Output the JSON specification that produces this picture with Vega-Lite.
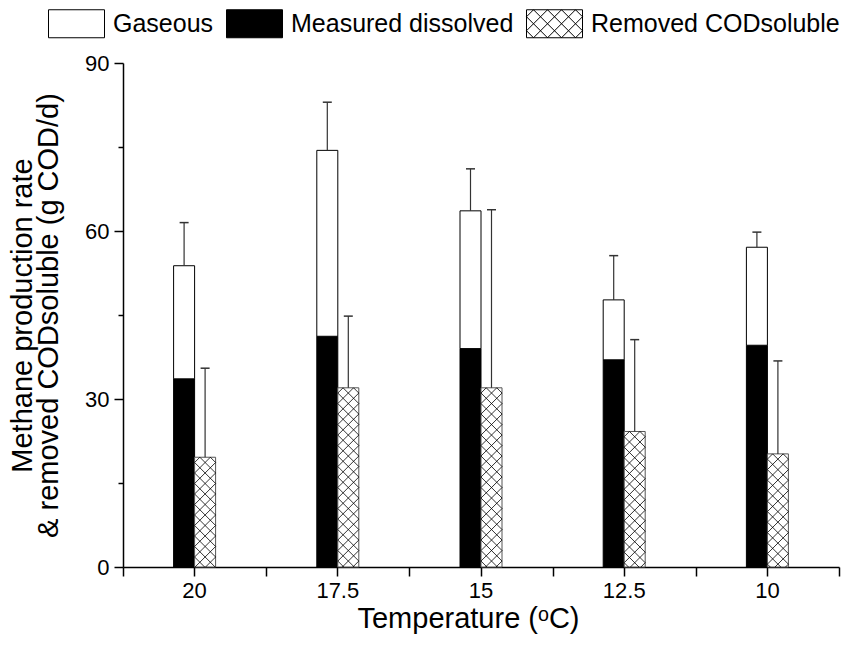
{
  "$schema": "https://vega.github.io/schema/vega-lite/v6.json",
  "width": 716,
  "height": 504,
  "autosize": {"type": "none"},
  "padding": {"left": 123, "top": 63, "right": 15, "bottom": 85},
  "config": {
    "view": {"stroke": null},
    "font": "Liberation Sans",
    "axis": {
      "domainColor": "black",
      "domainWidth": 1.5,
      "tickColor": "black",
      "tickWidth": 1.5,
      "tickSize": 9,
      "labelColor": "black",
      "labelFont": "Liberation Sans",
      "labelFontSize": 22,
      "titleFont": "Liberation Sans",
      "titleFontSize": 29,
      "titleFontWeight": "normal",
      "titleColor": "black",
      "grid": false
    }
  },
  "data": {
    "values": [
      {"temp": "20", "dissolved": 33.6, "total": 53.8, "total_hi": 61.5, "removed": 19.6, "removed_hi": 35.5},
      {"temp": "17.5", "dissolved": 41.2, "total": 74.4, "total_hi": 83.0, "removed": 32.0, "removed_hi": 44.8},
      {"temp": "15", "dissolved": 39.0, "total": 63.6, "total_hi": 71.1, "removed": 32.0, "removed_hi": 63.8},
      {"temp": "12.5", "dissolved": 37.0, "total": 47.7, "total_hi": 55.6, "removed": 24.2, "removed_hi": 40.6},
      {"temp": "10", "dissolved": 39.6, "total": 57.1, "total_hi": 59.8, "removed": 20.2, "removed_hi": 36.8}
    ]
  },
  "layer": [
    {
      "mark": {"type": "bar", "width": 21, "xOffset": -10.5, "stroke": "black", "strokeWidth": 1},
      "encoding": {
        "x": {
          "field": "temp", "type": "nominal", "sort": null,
          "scale": {"paddingInner": 0, "paddingOuter": 0},
          "axis": {"orient": "bottom", "labelAngle": 0, "labelPadding": 4, "labelFontSize": 22, "labelFont": "Liberation Sans", "tickBand": "center", "title": "Temperature (ᵒC)", "titleBaseline": "alphabetic", "titleY": 60, "titleX": 345}
        },
        "y": {
          "field": "dissolved", "type": "quantitative",
          "scale": {"domain": [0, 90], "nice": false},
          "axis": {"orient": "left", "values": [0, 30, 60, 90], "labelPadding": 5, "labelFontSize": 22, "labelFont": "Liberation Sans", "title": ["Methane production rate", "& removed CODsoluble (g COD/d)"], "titleX": -101, "titleBaseline": "middle", "titleLineHeight": 26}
        },
        "y2": {"datum": 0},
        "fill": {
          "datum": "Measured dissolved", "type": "nominal",
          "scale": {"domain": ["Gaseous", "Measured dissolved", "Removed CODsoluble"], "range": ["white", "black", "white"]},
          "legend": {
            "title": null, "orient": "none", "direction": "horizontal",
            "legendX": -75, "legendY": -68, "padding": 0,
            "symbolType": "M-1,-0.5H1V0.5H-1Z", "symbolSize": 3136,
            "symbolStrokeColor": "black", "symbolStrokeWidth": 1,
            "labelFontSize": 25, "labelFont": "Liberation Sans", "labelColor": "black", "labelOffset": 8, "labelLimit": 0, "columnPadding": 10,
            "encode": {
              "symbols": {
                "update": {
                  "shape": {"signal": "datum.value === 'Removed CODsoluble' ? 'M-1,-0.5H1V0.5H-1Z M-1,0.25L-0.75,0.5 M-1,-0.25L-0.25,0.5 M-0.75,-0.5L0.25,0.5 M-0.25,-0.5L0.75,0.5 M0.25,-0.5L1,0.25 M0.75,-0.5L1,-0.25 M-1,-0.25L-0.75,-0.5 M-1,0.25L-0.25,-0.5 M-0.75,0.5L0.25,-0.5 M-0.25,0.5L0.75,-0.5 M0.25,0.5L1,-0.25 M0.75,0.5L1,0.25' : 'M-1,-0.5H1V0.5H-1Z'"},
                  "stroke": {"value": "black"},
                  "strokeWidth": {"value": 1}
                }
              }
            }
          }
        }
      }
    },
    {
      "mark": {"type": "bar", "width": 21, "xOffset": -10.5, "stroke": "black", "strokeWidth": 1},
      "encoding": {
        "x": {"field": "temp", "type": "nominal", "sort": null, "axis": null},
        "y": {
          "field": "total", "type": "quantitative",
          "axis": {"orient": "left", "values": [15, 45, 75], "labels": false, "domain": false, "tickSize": 5, "title": null}
        },
        "y2": {"field": "dissolved"},
        "fill": {"datum": "Gaseous", "type": "nominal"}
      }
    },
    {
      "mark": {"type": "bar", "width": 21, "xOffset": 10.5, "stroke": "#555555", "strokeWidth": 1},
      "encoding": {
        "x": {
          "field": "temp", "type": "nominal", "sort": null,
          "axis": {"orient": "bottom", "tickBand": "extent", "labels": false, "domain": false, "title": null}
        },
        "y": {"field": "removed", "type": "quantitative", "axis": null},
        "y2": {"datum": 0},
        "fill": {"datum": "Removed CODsoluble", "type": "nominal"}
      }
    },
    {
      "mark": {
        "type": "point", "filled": false, "clip": true, "xOffset": 10.5, "size": 441,
        "stroke": "black", "strokeWidth": 0.8, "opacity": 1,
        "shape": "M-0.5,0L1,1.5M0.5,0L-1,1.5M0.5,0L1,0.5M-0.5,0L-1,0.5M-1,0.5L1,2.5M1,0.5L-1,2.5M-1,1.5L1,3.5M1,1.5L-1,3.5M-1,2.5L1,4.5M1,2.5L-1,4.5M-1,3.5L1,5.5M1,3.5L-1,5.5M-1,4.5L1,6.5M1,4.5L-1,6.5M-1,5.5L1,7.5M1,5.5L-1,7.5M-1,6.5L1,8.5M1,6.5L-1,8.5M-1,7.5L1,9.5M1,7.5L-1,9.5M-1,8.5L1,10.5M1,8.5L-1,10.5M-1,9.5L1,11.5M1,9.5L-1,11.5M-1,10.5L1,12.5M1,10.5L-1,12.5M-1,11.5L1,13.5M1,11.5L-1,13.5M-1,12.5L1,14.5M1,12.5L-1,14.5M-1,13.5L1,15.5M1,13.5L-1,15.5M-1,14.5L1,16.5M1,14.5L-1,16.5M-1,15.5L1,17.5M1,15.5L-1,17.5M-1,16.5L1,18.5M1,16.5L-1,18.5M-1,17.5L1,19.5M1,17.5L-1,19.5M-1,18.5L1,20.5M1,18.5L-1,20.5"
      },
      "encoding": {
        "x": {"field": "temp", "type": "nominal", "sort": null, "axis": null},
        "y": {"field": "removed", "type": "quantitative", "axis": null}
      }
    },
    {
      "mark": {"type": "rule", "xOffset": -10.5, "color": "#333333", "strokeWidth": 1.2},
      "encoding": {
        "x": {"field": "temp", "type": "nominal", "sort": null, "axis": null},
        "y": {"field": "total", "type": "quantitative", "axis": null},
        "y2": {"field": "total_hi"}
      }
    },
    {
      "mark": {"type": "tick", "orient": "horizontal", "xOffset": -10.5, "color": "#333333", "size": 9, "thickness": 1.5, "opacity": 1},
      "encoding": {
        "x": {"field": "temp", "type": "nominal", "sort": null, "axis": null},
        "y": {"field": "total_hi", "type": "quantitative", "axis": null}
      }
    },
    {
      "mark": {"type": "rule", "xOffset": 10.5, "color": "#333333", "strokeWidth": 1.2},
      "encoding": {
        "x": {"field": "temp", "type": "nominal", "sort": null, "axis": null},
        "y": {"field": "removed", "type": "quantitative", "axis": null},
        "y2": {"field": "removed_hi"}
      }
    },
    {
      "mark": {"type": "tick", "orient": "horizontal", "xOffset": 10.5, "color": "#333333", "size": 9, "thickness": 1.5, "opacity": 1},
      "encoding": {
        "x": {"field": "temp", "type": "nominal", "sort": null, "axis": null},
        "y": {"field": "removed_hi", "type": "quantitative", "axis": null}
      }
    }
  ],
  "resolve": {"axis": {"x": "independent", "y": "independent"}}
}
